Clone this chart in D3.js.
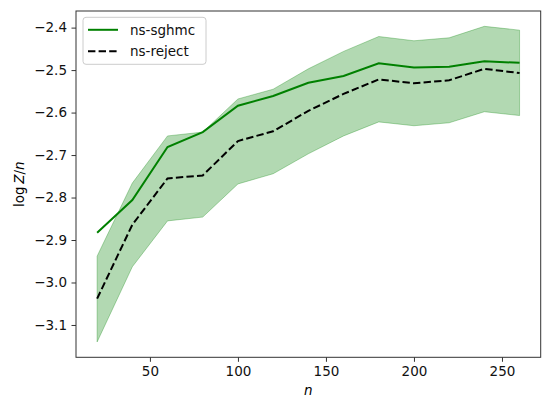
<!DOCTYPE html>
<html>
<head>
<meta charset="utf-8">
<script src="https://cdn.jsdelivr.net/npm/d3@7"></script>
<style>
  body { margin: 0; background: #fff; }
  svg { display: block; font-family: "DejaVu Sans", sans-serif; }
</style>
</head>
<body>
<svg width="550" height="406"></svg>
<script>
const nValues = [20, 40, 60, 80, 100, 120, 140, 160, 180, 200, 220, 240, 260];
const sghmc = [-2.883, -2.806, -2.681, -2.646, -2.584, -2.561, -2.530, -2.514, -2.484, -2.494, -2.492, -2.479, -2.483];
const reject = [-3.038, -2.864, -2.755, -2.748, -2.667, -2.644, -2.596, -2.556, -2.522, -2.531, -2.524, -2.497, -2.507];
const bandUpper = [-2.938, -2.766, -2.655, -2.646, -2.568, -2.545, -2.497, -2.456, -2.421, -2.431, -2.424, -2.397, -2.406];
const bandLower = [-3.140, -2.963, -2.855, -2.846, -2.768, -2.744, -2.697, -2.655, -2.622, -2.631, -2.624, -2.598, -2.607];
const xTicks = [50, 100, 150, 200, 250];
const yTicks = [-3.1, -3.0, -2.9, -2.8, -2.7, -2.6, -2.5, -2.4];

const margin = { top: 11, right: 9.3, bottom: 48.7, left: 76 };
const width = 550 - margin.left - margin.right;
const height = 406 - margin.top - margin.bottom;
const fontSize = 13.5;

const svg = d3.select("svg")
    .append("g")
    .attr("transform", `translate(${margin.left}, ${margin.top})`);

const x = d3.scaleLinear()
    .domain([8, 272])
    .range([0, width]);

const y = d3.scaleLinear()
    .domain([-3.1761, -2.3609])
    .range([height, 0]);

const rows = nValues.map((n, i) => ({
    n, s: sghmc[i], r: reject[i], lo: bandLower[i], hi: bandUpper[i]
}));

// band
svg.append("path")
    .datum(rows)
    .attr("fill", "green")
    .attr("fill-opacity", 0.3)
    .attr("stroke", "green")
    .attr("stroke-opacity", 0.3)
    .attr("stroke-width", 1)
    .attr("d", d3.area()
        .x(d => x(d.n))
        .y0(d => y(d.lo))
        .y1(d => y(d.hi)));

svg.append("path")
    .datum(rows)
    .attr("fill", "none")
    .attr("stroke", "green")
    .attr("stroke-width", 2)
    .attr("d", d3.line()
        .x(d => x(d.n))
        .y(d => y(d.s)));

svg.append("path")
    .datum(rows)
    .attr("fill", "none")
    .attr("stroke", "black")
    .attr("stroke-width", 2)
    .attr("stroke-dasharray", "7.4 3.2")
    .attr("d", d3.line()
        .x(d => x(d.n))
        .y(d => y(d.r)));

// axes
const xAxis = svg.append("g")
    .attr("transform", `translate(0,${height})`)
    .call(d3.axisBottom(x).tickValues(xTicks).tickSize(4.5).tickPadding(4.5).tickFormat(d3.format("d")));

const yAxis = svg.append("g")
    .call(d3.axisLeft(y).tickValues(yTicks).tickSize(4.5).tickPadding(4.5)
        .tickFormat(d => d3.format(".1f")(d).replace("-", "\u2212")));

[xAxis, yAxis].forEach(a => {
    a.selectAll(".domain").remove();
    a.selectAll("line").attr("stroke", "#333").attr("stroke-width", 1);
    a.selectAll("text")
        .attr("fill", "#111")
        .style("font-size", fontSize + "px")
        .style("font-family", "DejaVu Sans");
});

svg.append("rect")
    .attr("width", width)
    .attr("height", height)
    .attr("fill", "none")
    .attr("stroke", "#333")
    .attr("stroke-width", 1);

// axis labels
svg.append("text")
    .attr("x", width / 2)
    .attr("y", height + 38)
    .attr("text-anchor", "middle")
    .style("font-size", fontSize + "px")
    .style("font-style", "italic")
    .text("n");

const yl = svg.append("text")
    .attr("transform", `translate(-52, ${height / 2}) rotate(-90)`)
    .attr("text-anchor", "middle")
    .style("font-size", fontSize + "px");
yl.append("tspan").text("log\u2009");
yl.append("tspan").style("font-style", "italic").text("Z");
yl.append("tspan").text("/");
yl.append("tspan").style("font-style", "italic").text("n");

// legend
const legend = svg.append("g")
    .attr("transform", "translate(7, 6.3)");

legend.append("rect")
    .attr("width", 123)
    .attr("height", 47)
    .attr("rx", 3)
    .attr("fill", "white")
    .attr("fill-opacity", 0.8)
    .attr("stroke", "#ccc")
    .attr("stroke-width", 1);

const legendItems = [
    { label: "ns-sghmc", color: "green", dash: null },
    { label: "ns-reject", color: "black", dash: "7.4 3.2" }
];

legendItems.forEach((d, i) => {
    const ly = 12.5 + i * 21.5;
    legend.append("line")
        .attr("x1", 5).attr("x2", 35)
        .attr("y1", ly).attr("y2", ly)
        .attr("stroke", d.color)
        .attr("stroke-width", 2)
        .attr("stroke-dasharray", d.dash);
    legend.append("text")
        .attr("x", 47)
        .attr("y", ly + 5)
        .style("font-size", fontSize + "px")
        .attr("fill", "#111")
        .text(d.label);
});
</script>
</body>
</html>
